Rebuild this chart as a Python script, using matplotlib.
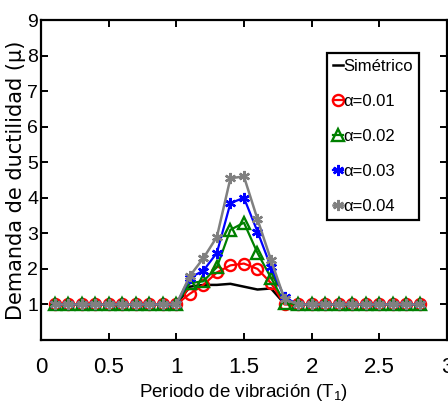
import matplotlib
matplotlib.use("Agg")
import matplotlib.pyplot as plt

# Periodo de vibración T1 (s)
periodo = [0.1, 0.2, 0.3, 0.4, 0.5, 0.6, 0.7, 0.8, 0.9, 1.0,
           1.1, 1.2, 1.3, 1.4, 1.5, 1.6, 1.7, 1.8,
           1.9, 2.0, 2.1, 2.2, 2.3, 2.4, 2.5, 2.6, 2.7, 2.8]

# Demanda de ductilidad por caso
simetrico = [1.0, 1.0, 1.0, 1.0, 1.0, 1.0, 1.0, 1.0, 1.0, 1.0,
             1.50, 1.55, 1.55, 1.58, 1.50, 1.42, 1.45, 1.02,
             1.0, 1.0, 1.0, 1.0, 1.0, 1.0, 1.0, 1.0, 1.0, 1.0]
alfa_001 = [1.0, 1.0, 1.0, 1.0, 1.0, 1.0, 1.0, 1.0, 1.0, 1.0,
            1.30, 1.55, 1.90, 2.10, 2.15, 2.00, 1.60, 1.00,
            1.0, 1.0, 1.0, 1.0, 1.0, 1.0, 1.0, 1.0, 1.0, 1.0]
alfa_002 = [1.0, 1.0, 1.0, 1.0, 1.0, 1.0, 1.0, 1.0, 1.0, 1.0,
            1.60, 1.65, 2.05, 3.10, 3.30, 2.45, 1.75, 1.05,
            1.0, 1.0, 1.0, 1.0, 1.0, 1.0, 1.0, 1.0, 1.0, 1.0]
alfa_003 = [1.0, 1.0, 1.0, 1.0, 1.0, 1.0, 1.0, 1.0, 1.0, 1.0,
            1.75, 1.95, 2.45, 3.85, 4.00, 3.05, 2.05, 1.20,
            1.0, 1.0, 1.0, 1.0, 1.0, 1.0, 1.0, 1.0, 1.0, 1.0]
alfa_004 = [1.0, 1.0, 1.0, 1.0, 1.0, 1.0, 1.0, 1.0, 1.0, 1.0,
            1.80, 2.30, 2.90, 4.55, 4.60, 3.40, 2.25, 1.15,
            1.0, 1.0, 1.0, 1.0, 1.0, 1.0, 1.0, 1.0, 1.0, 1.0]

etiquetas = ["Simétrico", "α=0.01", "α=0.02", "α=0.03", "α=0.04"]

plt.rcParams["font.family"] = ["Liberation Sans", "DejaVu Sans"]
plt.rcParams["mathtext.default"] = "regular"

fig = plt.figure(figsize=(4.48, 4.05), dpi=100)
ax = fig.add_axes([0.0915, 0.1605, 0.906, 0.79])

asterisco = (6, 2, 0)
ax.plot(periodo, simetrico, color="black", lw=1.8, label=etiquetas[0])
ax.plot(periodo, alfa_001, color="red", lw=1.6, marker="o", ms=8,
        mfc="none", mew=1.7, label=etiquetas[1])
ax.plot(periodo, alfa_002, color="green", lw=1.6, marker="^", ms=8,
        mfc="none", mew=1.7, label=etiquetas[2])
ax.plot(periodo, alfa_003, color="blue", lw=1.6, marker=asterisco, ms=8,
        mew=1.7, label=etiquetas[3])
ax.plot(periodo, alfa_004, color="gray", lw=1.8, marker=asterisco, ms=8,
        mew=1.7, label=etiquetas[4])

ax.set_xlim(0, 3)
ax.set_ylim(0, 9)
ax.set_xticks([0, 0.5, 1, 1.5, 2, 2.5, 3])
ax.set_xticklabels(["0", "0.5", "1", "1.5", "2", "2.5", "3"])
ax.set_yticks(range(1, 10))

for s in ax.spines.values():
    s.set_linewidth(1.6)
ax.tick_params(direction="in", length=5, width=1.4, top=True, right=True)
ax.tick_params(axis="x", labelsize=16, pad=12)
ax.tick_params(axis="y", labelsize=14, pad=2)

ax.set_xlabel("Periodo de vibración (T$_1$)", fontsize=13.5, labelpad=3)
ax.set_ylabel("Demanda de ductilidad (μ)", fontsize=15, family="DejaVu Sans",
              labelpad=1)

leg = ax.legend(loc="upper left", bbox_to_anchor=(0.704, 0.897), fontsize=12,
                numpoints=1, handlelength=0.6, handletextpad=0.05,
                labelspacing=1.2, borderpad=0.35, borderaxespad=0,
                fancybox=False, framealpha=1)
leg.get_frame().set_edgecolor("black")
leg.get_frame().set_linewidth(1.6)

fig.savefig("out.png", dpi=100)
